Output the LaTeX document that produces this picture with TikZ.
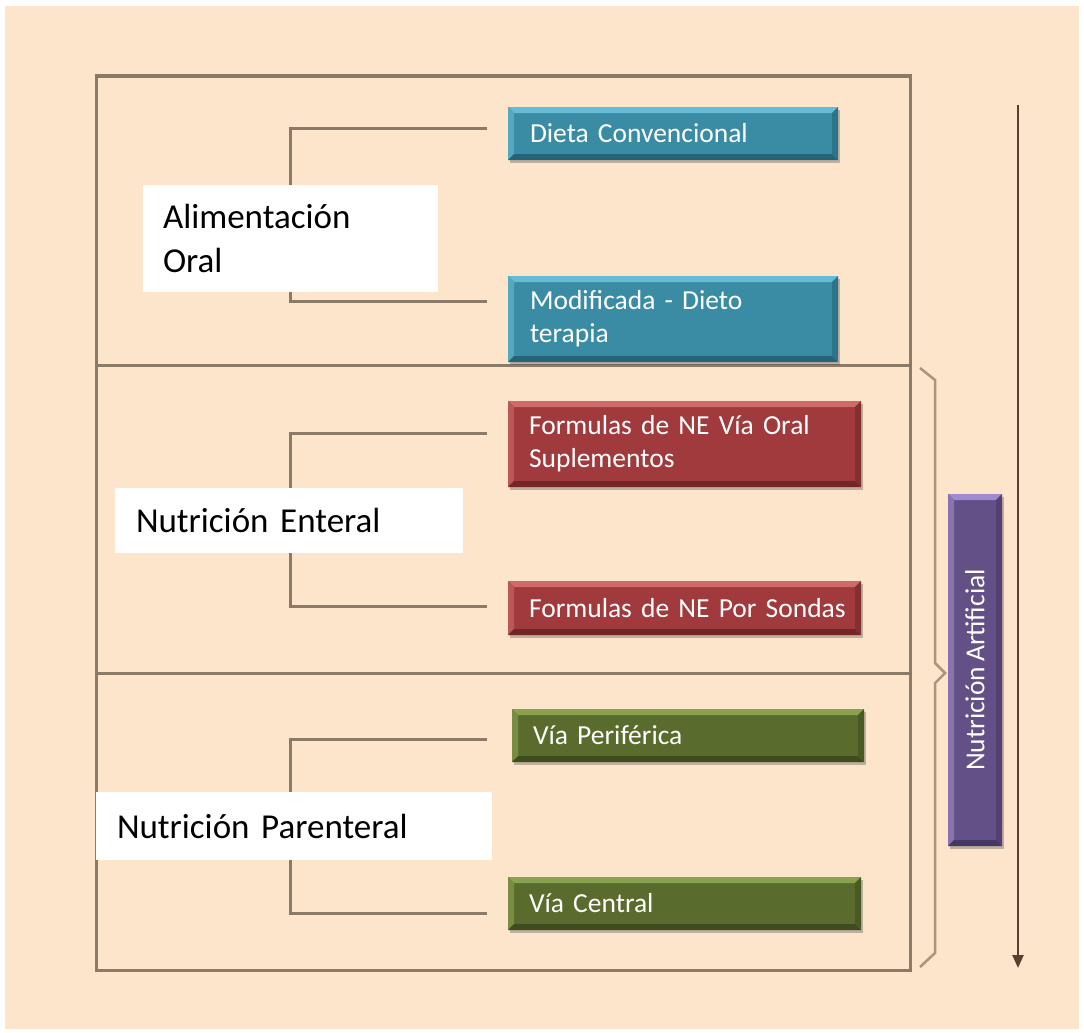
\documentclass[tikz,border=0pt]{standalone}
\usepackage{fontspec}
\setmainfont{Carlito}[WordSpace=0.8]
\usetikzlibrary{calc,shadows,arrows.meta}
\definecolor{bg}{HTML}{FDE5CB}
\definecolor{framec}{HTML}{8C7A68}
\definecolor{bracec}{HTML}{A8957F}
\definecolor{arrowc}{HTML}{5A4032}
\definecolor{tealm}{HTML}{3A8CA5}
\definecolor{teall}{HTML}{66BCD6}
\definecolor{teald}{HTML}{256478}
\definecolor{redm}{HTML}{A03A3C}
\definecolor{redl}{HTML}{CE6A6A}
\definecolor{redd}{HTML}{722727}
\definecolor{grnm}{HTML}{5A6C2D}
\definecolor{grnl}{HTML}{88A250}
\definecolor{grnd}{HTML}{3F4C1E}
\definecolor{purm}{HTML}{625087}
\definecolor{purl}{HTML}{A08CCC}
\definecolor{purd}{HTML}{463866}
\tikzset{
  frame/.style={draw=framec, line width=3pt},
  conn/.style={draw=framec, line width=3pt},
  brace/.style={draw=bracec, line width=2.5pt, line join=miter},
  label/.style={fill=white, font=\fontsize{35}{44}\selectfont, align=left, inner ysep=0pt, text=black},
  bevel/.style n args={3}{fill=#1, path picture={
     \coordinate (pnw) at (path picture bounding box.north west);
     \coordinate (pne) at (path picture bounding box.north east);
     \coordinate (psw) at (path picture bounding box.south west);
     \coordinate (pse) at (path picture bounding box.south east);
     \fill[#2] (pnw) -- (pne) -- ($(pne)+(-6pt,-6pt)$) -- ($(pnw)+(6pt,-6pt)$) -- cycle;
     \fill[#2!60!#1] (pnw) -- ($(pnw)+(6pt,-6pt)$) -- ($(psw)+(6pt,6pt)$) -- (psw) -- cycle;
     \fill[#3] (psw) -- (pse) -- ($(pse)+(-6pt,6pt)$) -- ($(psw)+(6pt,6pt)$) -- cycle;
     \fill[#3!60!#1] (pne) -- (pse) -- ($(pse)+(-6pt,6pt)$) -- ($(pne)+(-6pt,-6pt)$) -- cycle;
  }},
  cbox/.style={drop shadow={shadow xshift=2pt, shadow yshift=-3pt, opacity=0.35, fill=black!70},
     text=white, font=\fontsize{27.5}{33}\selectfont, align=left, inner xsep=21pt, inner ysep=0pt},
  tealbox/.style={cbox, bevel={tealm}{teall}{teald}},
  redbox/.style={cbox, bevel={redm}{redl}{redd}},
  grnbox/.style={cbox, bevel={grnm}{grnl}{grnd}},
  purbox/.style={cbox, bevel={purm}{purl}{purd}, inner sep=0pt},
}
\begin{document}
\begin{tikzpicture}[x=1pt,y=-1pt]
\useasboundingbox (0,0) rectangle (1084,1033);
\fill[white] (0,0) rectangle (1084,1033);
\fill[bg] (5,6) rectangle (1079,1029);

% frame
\draw[frame] (96,76) rectangle (910,970);
\draw[frame] (96,365) -- (910,365);
\draw[frame] (96,673) -- (910,673);

% bracket connectors
\coordinate (c1a) at (487,128);
\coordinate (c1v) at (290,128);
\coordinate (c1b) at (487,301);
\draw[conn] (c1a) -| (c1v) |- (c1b);
\coordinate (c2a) at (487,433);
\coordinate (c2v) at (290,433);
\coordinate (c2b) at (487,606);
\draw[conn] (c2a) -| (c2v) |- (c2b);
\coordinate (c3a) at (487,739);
\coordinate (c3v) at (290,739);
\coordinate (c3b) at (487,913);
\draw[conn] (c3a) -| (c3v) |- (c3b);

% white labels
\node[label, inner xsep=20pt, text width=255pt, minimum height=107pt] (oral) at (290.5,238.5) {Alimentación\\Oral};
\node[label, inner xsep=21pt, text width=306pt, minimum height=65pt] (enteral) at (289,520.5) {Nutrición Enteral};
\node[label, inner xsep=21pt, text width=354pt, minimum height=68pt] (parenteral) at (294,826) {Nutrición Parenteral};

% colored boxes
\node[tealbox, inner xsep=22pt, text width=286pt, minimum height=53pt] (dieta) at (673,133.5) {\mbox{Dieta Convencional}};
\node[tealbox, inner xsep=22pt, text width=286pt, minimum height=86pt] (modif) at (673,319) {Modificada - Dieto\\terapia};
\node[redbox, text width=311pt, minimum height=86pt] (fOral) at (684.5,444) {\mbox{Formulas de NE Vía Oral}\\Suplementos};
\node[redbox, text width=311pt, minimum height=54pt] (sondas) at (684.5,608) {\mbox{Formulas de NE Por Sondas}};
\node[grnbox, text width=310pt, minimum height=53pt] (perif) at (688,735.5) {\mbox{Vía Periférica}};
\node[grnbox, text width=311pt, minimum height=53pt] (central) at (684.5,903.5) {\mbox{Vía Central}};

% brace
\coordinate (br1) at (920,368);
\coordinate (br2) at (935,380);
\coordinate (br3) at (935,663);
\coordinate (brt) at (945,673);
\coordinate (br4) at (935,683);
\coordinate (br5) at (935,953);
\coordinate (br6) at (920,967);
\draw[brace] (br1) -- (br2) -- (br3) -- (brt) -- (br4) -- (br5) -- (br6);

% artificial
\node[purbox, minimum width=54pt, minimum height=352pt] (artif) at (975,670) {\rotatebox{90}{Nutrición Artificial}};

% arrow
\coordinate (arrS) at (1018,105);
\coordinate (arrE) at (1018,968);
\draw[draw=arrowc, line width=2.5pt, -{Triangle[length=13pt,width=11pt]}] (arrS) -- (arrE);
\end{tikzpicture}
\end{document}
